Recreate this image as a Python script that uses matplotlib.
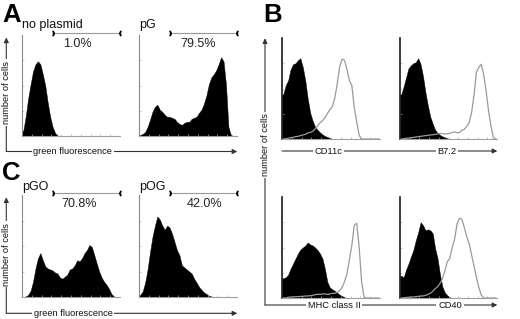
import numpy as np
import matplotlib
matplotlib.use('Agg')
import matplotlib.pyplot as plt

plt.rcParams['font.family'] = ['Liberation Sans', 'DejaVu Sans']

# ---------------- data (histogram heights, 40 channels spanning 0..100) ----------------
no_plasmid = [5, 19, 37, 51, 64, 71, 74, 71, 61, 50, 33, 19, 9, 3, 0.5] + [0] * 25
pG = [1, 2, 4, 9, 16, 24, 29, 31, 26, 24, 21, 19, 19, 18, 17, 14, 12, 11, 13, 14,
      14, 17, 18, 19, 23, 26, 32, 40, 51, 58, 61, 65, 71, 78, 74, 51, 9, 1, 0, 0]
pGO = [0, 0.6, 2, 6, 15, 28, 38, 43, 36, 30, 28, 27, 26, 24, 23, 19, 18, 20, 22, 27,
       28, 31, 36, 35, 38, 43, 46, 51, 49, 41, 33, 25, 19, 15, 12, 8, 3, 0.6, 0, 0]
pOG = [2, 5.5, 14, 27, 44, 59, 70, 79, 76, 70, 66, 70, 68, 62, 54, 46, 41, 31, 29, 27,
       25, 23, 18, 14, 10, 7, 4.5, 3, 1.3, 0.6] + [0] * 10

cd11c_ctrl = [44, 53, 58, 69, 74, 75, 78, 80, 71, 58, 40, 26, 18, 12, 9, 6.5, 4.5, 3, 2, 1] + [0] * 20
cd11c_stain = [0, 0.3, 0.7, 1.3, 1.6, 2.3, 2.6, 3.3, 4, 4.6, 6, 6.5, 7.5, 10, 13, 16, 18, 21, 25, 29,
               32, 40, 54, 71, 79, 78, 69, 58, 53, 31, 17, 3.5, 0, 0, 0, 0, 0, 0, 0, 0]
b72_ctrl = [44, 52, 61, 70, 73, 75, 76, 80, 74, 62, 46, 33, 22, 15, 9, 6, 4, 2.6, 1.6, 0.7] + [0] * 20
b72_stain = [0, 0.3, 0.7, 1, 1.3, 1.6, 2, 2.3, 2.6, 3, 3.3, 3.6, 4, 4.2, 4.6, 5, 5.5, 5.2, 5, 5.2,
             5.5, 6.5, 7, 6.2, 6.5, 8.5, 9.5, 12.4, 16, 26, 43, 66, 71, 74, 64, 48, 28, 13, 1.3, 0]
mhc_ctrl = [19.5, 20.5, 23, 29, 34, 39, 44, 48, 50, 52, 55, 53, 52, 50, 47.5, 44, 39, 29, 16, 10.5,
            8.6, 7.3, 5.3, 3.3, 2, 0.7] + [0] * 14
mhc_stain = [0, 0, 0.7, 1, 1, 1.3, 1.3, 1.6, 1.6, 2, 2, 2.3, 2.6, 3.3, 3.6, 3.6, 4, 4, 3.6, 4,
             4.6, 4.6, 5.6, 7.3, 10.5, 16, 24, 38, 52, 72, 74, 50, 16, 0.7] + [0] * 6
cd40_ctrl = [22, 20.5, 28, 34, 41, 47.5, 57, 65, 75, 72, 67, 68, 67, 64, 49, 39, 23, 11, 5.3, 2.6,
             0.7] + [0] * 19
cd40_stain = [0, 0.3, 0.5, 0.7, 1, 1, 1.3, 1.6, 2, 2, 2.6, 3.6, 4.6, 6.6, 9.2, 11, 14.5, 19, 27, 36,
              39, 50, 58, 73, 79, 78, 70, 61, 54, 43, 32, 20.5, 10.5, 3, 0] + [0] * 5

transfection_titles = ['no plasmid', 'pG', 'pGO', 'pOG']
transfection_pct = ['1.0%', '79.5%', '70.8%', '42.0%']
pct_x = [56, 60.5, 58.5, 67]
gate = (32, 99.5)
marker_labels = ['CD11c', 'B7.2', 'MHC class II', 'CD40']

# ---------------- figure ----------------
W, H = 520, 319
fig = plt.figure(figsize=(W / 100, H / 100), dpi=100)
centers = np.linspace(1.25, 98.75, 40)


def add_ax(left, bottom, width, height):
    return fig.add_axes([left / W, (H - bottom) / H, width / W, height / H])


def style(ax, dark_left=False):
    ax.set_xlim(0, 100)
    ax.set_ylim(0, 100)
    ax.patch.set_alpha(0)
    for s in ['top', 'right']:
        ax.spines[s].set_visible(False)
    ax.spines['left'].set_color('#1a1a1a' if dark_left else '#8a8a8a')
    ax.spines['left'].set_linewidth(1.2 if dark_left else 0.8)
    ax.spines['bottom'].set_color('#a0a0a0')
    ax.spines['bottom'].set_linewidth(0.8)
    ax.set_xticks(np.arange(10, 100, 10))
    ax.set_yticks([25, 50, 75])
    ax.tick_params(direction='in', length=1.5, width=0.5, color='#b0b0b0',
                   labelleft=False, labelbottom=False)


def filled(ax, vals):
    xs = np.concatenate([[0], centers])
    ys = np.concatenate([[vals[0]], vals])
    ax.fill_between(xs, 0, ys, color='black', lw=0.3, edgecolor='black')


# panel A and C
ac_boxes = [(22, 136, 98, 101), (139, 136, 98, 101), (22, 297, 98, 102), (139, 297, 98, 102)]
ac_data = [no_plasmid, pG, pGO, pOG]
for (l, b, w, h), vals, px, pct in zip(ac_boxes, ac_data, pct_x, transfection_pct):
    ax = add_ax(l, b, w, h)
    style(ax)
    filled(ax, vals)
    ax.plot(gate, [101.5, 101.5], color='#9a9a9a', lw=0.8, clip_on=False)
    ax.plot(gate[0], 101.5, marker='$)$', ms=3.2, color='black', clip_on=False)
    ax.plot(gate[1], 101.5, marker='$($', ms=3.2, color='black', clip_on=False)
    ax.text(px, 91, pct, ha='center', va='center', fontsize=9, color='#222')

# panel B
b_boxes = [(282, 139, 98, 101), (400, 139, 97, 101), (282, 298, 98, 101), (400, 298, 97, 101)]
b_data = [(cd11c_ctrl, cd11c_stain), (b72_ctrl, b72_stain), (mhc_ctrl, mhc_stain), (cd40_ctrl, cd40_stain)]
for (l, b, w, h), (ctrl, stain) in zip(b_boxes, b_data):
    ax = add_ax(l, b, w, h)
    style(ax, dark_left=True)
    filled(ax, ctrl)
    ax.plot(centers, stain, color='#9a9a9a', lw=0.9)

# ---------------- overlay (annotation layer in pixel coordinates) ----------------
ov = fig.add_axes([0, 0, 1, 1])
ov.set_xlim(0, W)
ov.set_ylim(H, 0)
ov.axis('off')
ov.patch.set_alpha(0)

for letter, x, y in [('A', 2.5, 21.7), ('B', 263.5, 21.7), ('C', 2, 180.5)]:
    ov.text(x, y, letter, fontsize=18.5, fontweight='bold', va='baseline', ha='left')

for t, x, y in zip(transfection_titles, [22, 139, 22, 139], [28.3, 28.3, 190, 190]):
    ov.text(x, y, t, fontsize=9, va='baseline', ha='left', color='#111')

arrow_kw = dict(arrowstyle='-|>', lw=0.8, color='#333', mutation_scale=7,
                shrinkA=0, shrinkB=0)
lab_kw = dict(fontsize=6.7, ha='center', va='center', color='#111',
              bbox=dict(fc='white', ec='none', pad=1.2))


def arrow(x0, y0, x1, y1):
    ov.annotate('', xy=(x1, y1), xytext=(x0, y0), arrowprops=arrow_kw)


# A
arrow(6.3, 151.5, 6.3, 37.5)
arrow(6.3, 151.5, 237.3, 151.5)
ov.text(7, 92.5, 'number of cells', rotation=90, **lab_kw)
ov.text(72.7, 151.5, 'green fluorescence', **lab_kw)
# C
arrow(6.3, 313.3, 6.3, 197.3)
arrow(6.3, 313.3, 237.3, 313.3)
ov.text(7, 254, 'number of cells', rotation=90, **lab_kw)
ov.text(73.3, 313.3, 'green fluorescence', **lab_kw)
# B
arrow(265, 305, 265, 38.3)
arrow(265, 305, 497.3, 305)
arrow(282, 151, 497.3, 151)
ov.text(265.5, 145, 'number of cells', rotation=90, **lab_kw)
for lab, x, y in zip(marker_labels, [328.3, 446.7, 334, 450], [151, 151, 305, 305]):
    ov.text(x, y, lab, **lab_kw)

fig.savefig('out.png', dpi=100)
